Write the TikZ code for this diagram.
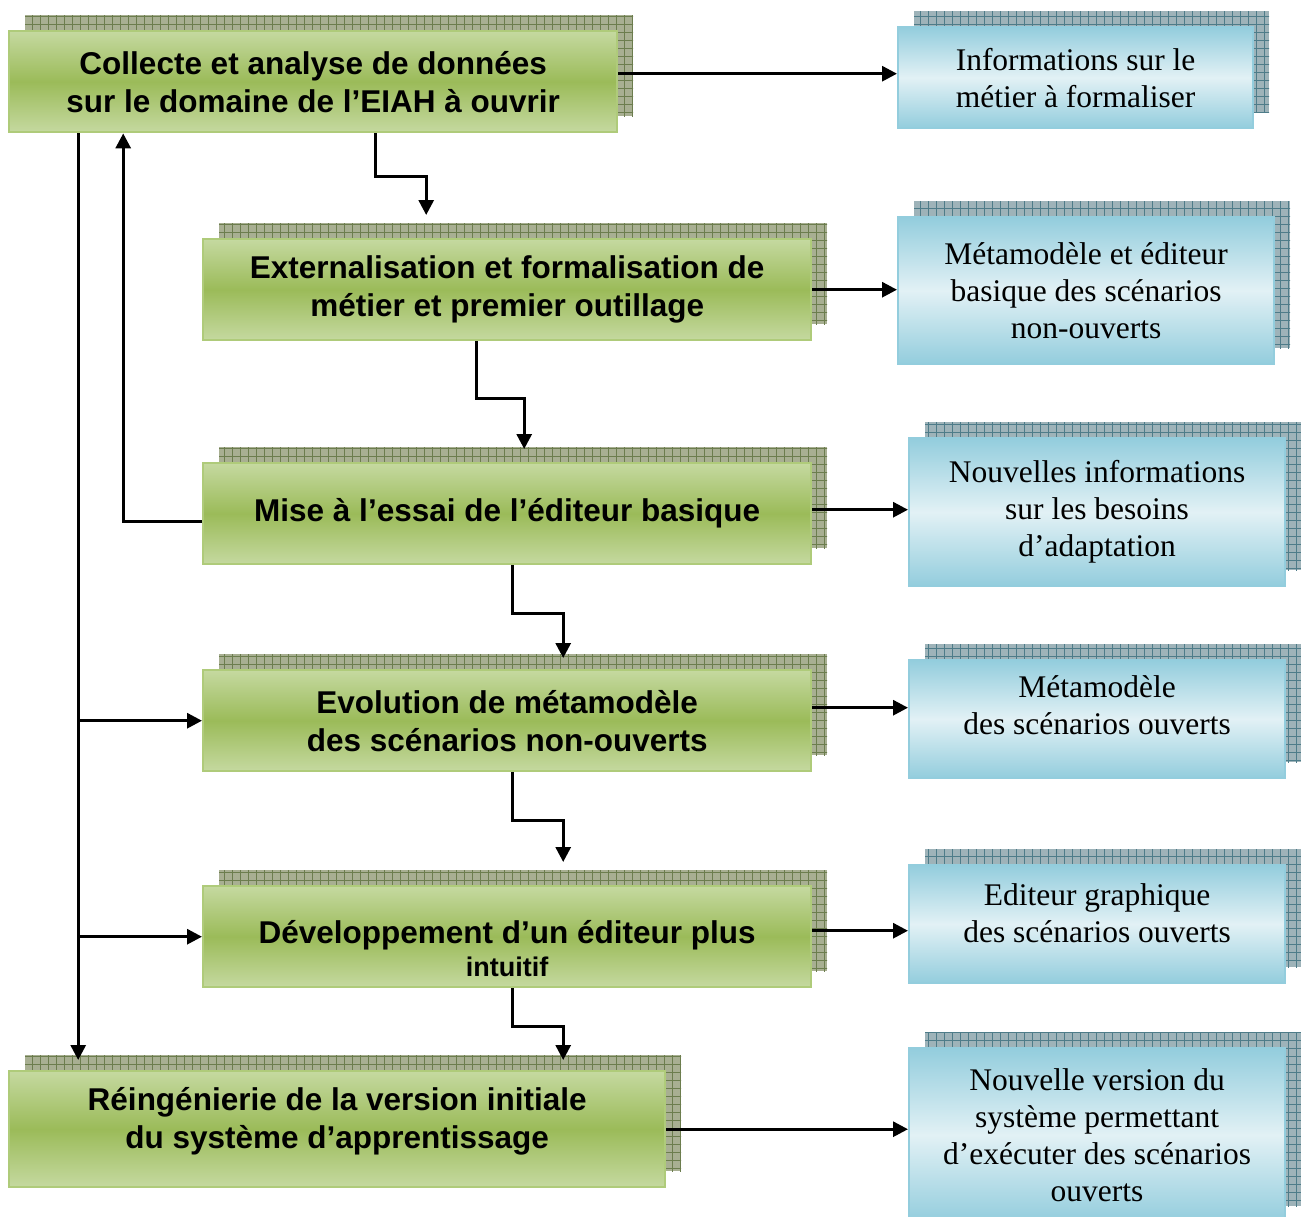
\documentclass[tikz,border=0pt]{standalone}
\usepackage{fontspec}
\setmainfont{Liberation Serif}
\setsansfont{Liberation Sans}
\usetikzlibrary{arrows.meta, shadows, patterns.meta}
\definecolor{phaselite}{HTML}{C5D9A0}
\definecolor{phasedark}{HTML}{9BBB59}
\definecolor{phaseline}{HTML}{AFCB7A}
\definecolor{phaseshade}{HTML}{A8AF92}
\definecolor{phasegrid}{HTML}{6C7D4E}
\definecolor{outlite}{HTML}{E2F1F5}
\definecolor{outdark}{HTML}{93CDDD}
\definecolor{outline}{HTML}{93CDDD}
\definecolor{outshade}{HTML}{9EB3B9}
\definecolor{outgrid}{HTML}{4E7C89}
\tikzset{
  gridshadow/.style 2 args = {
      general shadow={shadow xshift=16pt, shadow yshift=16pt, fill=#1, draw=none},
      general shadow={shadow xshift=16pt, shadow yshift=16pt, draw=none,
                      pattern={Hatch[distance=8pt, line width=0.8pt]}, pattern color=#2}},
  phase/.style   = {anchor=north west, align=center, line width=2.4pt,
                    draw=phaseline, top color=phaselite, bottom color=phaselite,
                    middle color=phasedark, gridshadow={phaseshade}{phasegrid},
                    font=\sffamily\bfseries\fontsize{31.5}{38}\selectfont,
                    minimum width=608pt, minimum height=101pt, inner sep=0pt},
  result/.style  = {anchor=north west, align=center, line width=2.2pt,
                    draw=outline, shading=axis, shading angle=45,
                    top color=outdark, bottom color=outdark, middle color=outlite,
                    gridshadow={outshade}{outgrid},
                    font=\fontsize{31.5}{37}\selectfont,
                    minimum width=376pt, inner sep=0pt},
  flow/.style    = {-{Triangle[length=15pt, width=15pt]}, line width=3pt, draw=black},
}
\begin{document}
\begin{tikzpicture}[x=1pt, y=-1pt]
    \useasboundingbox (0,0) rectangle (1301,1216);
    % phases
    \node[phase]                                  (collecte) at (8,30)   {Collecte et analyse de données\\sur le domaine de l’EIAH à ouvrir};
    \node[phase]                                  (extern)   at (202,238) {Externalisation et formalisation de\\métier et premier outillage};
    \node[phase]                                  (essai)    at (202,462) {Mise à l’essai de l’éditeur basique};
    \node[phase]                                  (evol)     at (202,669) {Evolution de métamodèle\\des scénarios non-ouverts};
    \node[phase, text height=80pt]                (devel)    at (202,885) {Développement d’un éditeur plus\\[-5pt]{\fontsize{27}{30}\selectfont intuitif}};
    \node[phase, minimum width=656pt, minimum height=116pt, text depth=22pt] (reing) at (8,1070) {Réingénierie de la version initiale\\du système d’apprentissage};
    % results
    \node[result, minimum width=355pt, minimum height=101pt] (info)    at (897,26)   {Informations sur le\\métier à formaliser};
    \node[result, minimum height=147pt]                      (editeur) at (897,216)  {Métamodèle et éditeur\\basique des scénarios\\non-ouverts};
    \node[result, minimum height=148pt]                      (besoins) at (908,437)  {Nouvelles informations\\sur les besoins\\d’adaptation};
    \node[result, minimum height=118pt, text depth=28pt]     (meta)    at (908,659)  {Métamodèle\\des scénarios ouverts};
    \node[result, minimum height=118pt, text depth=22pt]     (graph)   at (908,864)  {Editeur graphique\\des scénarios ouverts};
    \node[result, minimum height=174pt]                      (version) at (908,1047) {Nouvelle version du\\système permettant\\d’exécuter des scénarios\\ouverts};
    % outputs
    \coordinate (collout)  at ([yshift=8pt]collecte.east);
    \coordinate (essaiout) at ([yshift=4pt]essai.east);
    \coordinate (evolout)  at ([yshift=13pt]evol.east);
    \coordinate (develout) at ([yshift=6pt]devel.east);
    \draw[flow] (collout) -- (info.west |- collout);
    \draw[flow] (extern.east) -- (editeur.west |- extern.east);
    \draw[flow] (essaiout) -- (besoins.west |- essaiout);
    \draw[flow] (evolout) -- (meta.west |- evolout);
    \draw[flow] (develout) -- (graph.west |- develout);
    \draw[flow] (reing.east) -- (version.west |- reing.east);
    % sequence
    \draw[flow] ([xshift=62pt]collecte.south) -- ++(0,43) -| ([xshift=-81pt,yshift=23pt]extern.north);
    \draw[flow] ([xshift=-31pt]extern.south) -- ++(0,57) -| ([xshift=17pt,yshift=13pt]essai.north);
    \draw[flow] ([xshift=5pt]essai.south) -- ++(0,48) -| ([xshift=56pt,yshift=11pt]evol.north);
    \draw[flow] ([xshift=5pt]evol.south) -- ++(0,48) -| ([xshift=56pt,yshift=23pt]devel.north);
    \draw[flow] ([xshift=5pt]devel.south) -- ++(0,38) -| ([xshift=226pt,yshift=10pt]reing.north);
    % feedback
    \draw[flow] ([yshift=-8pt]essai.west) -| ([xshift=-190pt]collecte.south);
    \coordinate (trunk) at ([xshift=-235pt]collecte.south);
    \draw[flow] (trunk) -- ([xshift=-259pt,yshift=10pt]reing.north);
    \draw[flow] (trunk |- evol.west) -- (evol.west);
    \draw[flow] (trunk |- devel.west) -- (devel.west);
\end{tikzpicture}
\end{document}
